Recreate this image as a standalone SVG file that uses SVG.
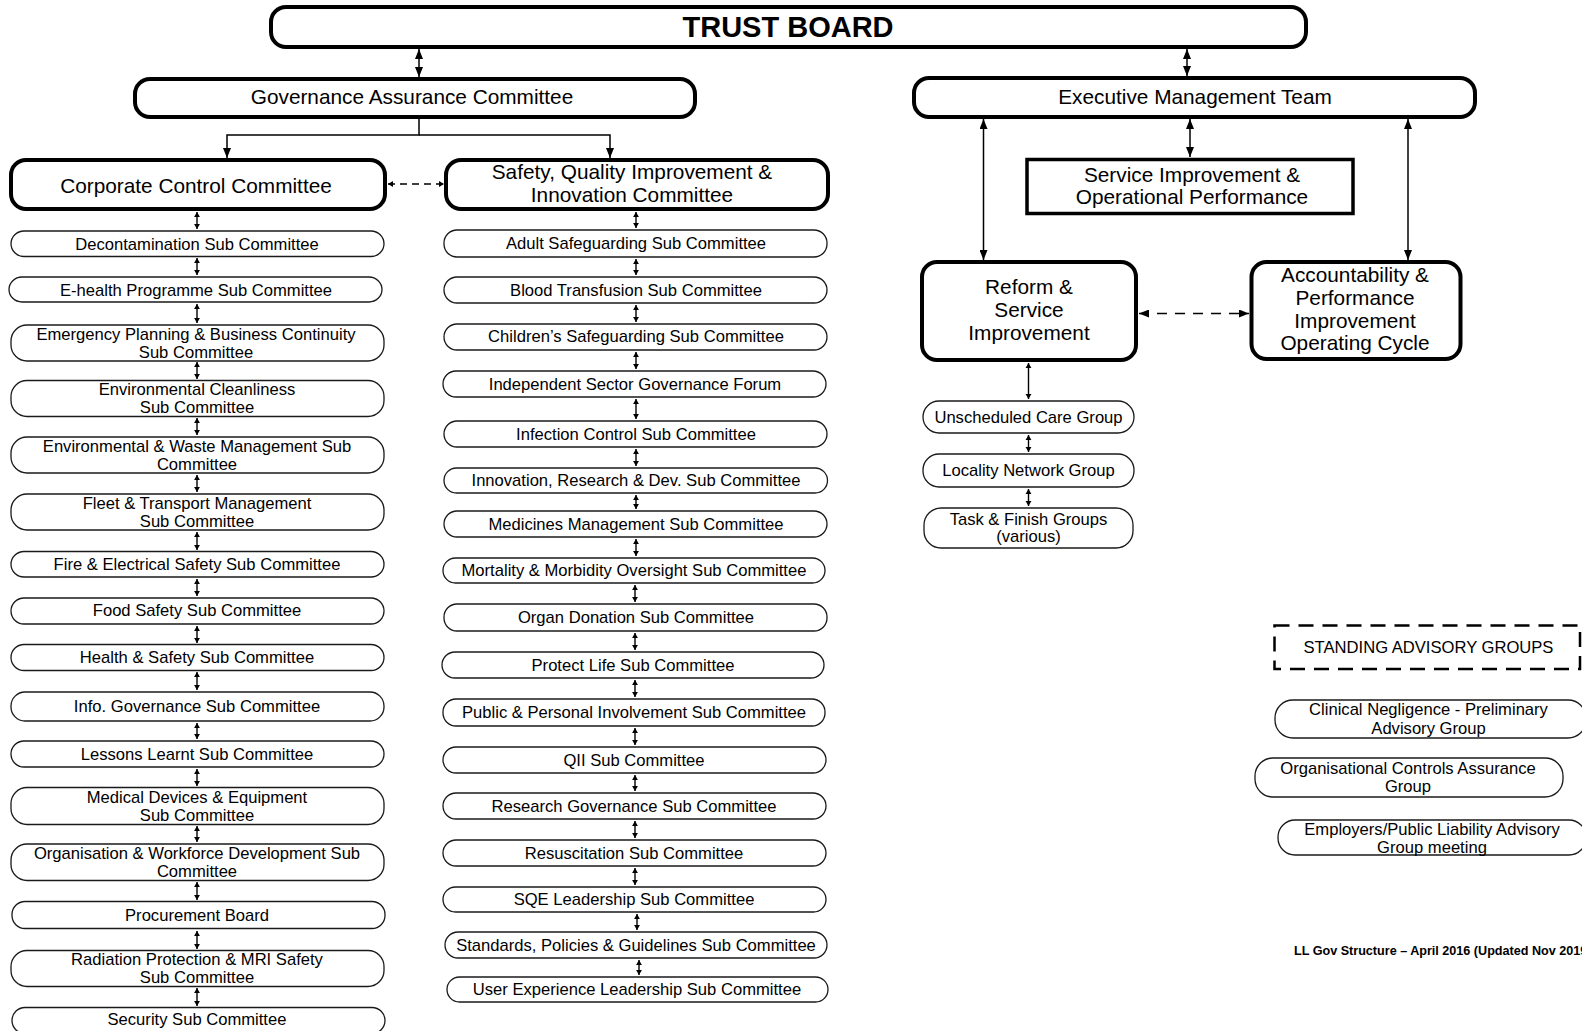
<svg xmlns="http://www.w3.org/2000/svg" width="1582" height="1031" viewBox="0 0 1582 1031">
<style>
text{font-family:"Liberation Sans",Arial,sans-serif;fill:#000;text-anchor:middle}
.h{font-size:20.8px}
.s{font-size:16.6px}
.t{font-size:29px;font-weight:bold}
.f{font-size:12.6px;font-weight:bold;text-anchor:start}
.big{fill:#fff;stroke:#000;stroke-width:4}
.sub{fill:#fff;stroke:#1a1a1a;stroke-width:1.3}
.c{fill:none;stroke:#000;stroke-width:1.5}
.cs{fill:none;stroke:#000;stroke-width:1.4}
.d{fill:none;stroke:#000;stroke-width:1.5;stroke-dasharray:7 5}
.d2{fill:none;stroke:#000;stroke-width:1.5;stroke-dasharray:10 8}
.sag{fill:none;stroke:#000;stroke-width:2.5;stroke-dasharray:15 9}
</style>
<defs>
<marker id="ah" viewBox="0 0 10 8" refX="10" refY="4" markerWidth="10" markerHeight="8" orient="auto-start-reverse" markerUnits="userSpaceOnUse"><path d="M0,0L10,4L0,8z" fill="#000"/></marker>
<marker id="as" viewBox="0 0 6 7" refX="6" refY="3.5" markerWidth="5" markerHeight="7" orient="auto-start-reverse" markerUnits="userSpaceOnUse"><path d="M0,0L6,3.5L0,7z" fill="#000"/></marker>
</defs>
<rect width="1582" height="1031" fill="#fff"/>

<g id="connectors">
<line class="c" x1="419" y1="49" x2="419" y2="77" marker-start="url(#ah)" marker-end="url(#ah)"/>
<line class="c" x1="1187" y1="49" x2="1187" y2="76" marker-start="url(#ah)" marker-end="url(#ah)"/>
<polyline class="c" points="419,119 419,135 227,135 227,158" marker-end="url(#ah)"/>
<polyline class="c" points="419,135 610,135 610,158" marker-end="url(#ah)"/>
<line class="d" x1="388" y1="184" x2="444" y2="184" marker-start="url(#as)" marker-end="url(#as)"/>
<line class="c" x1="1190" y1="119" x2="1190" y2="157" marker-start="url(#ah)" marker-end="url(#ah)"/>
<line class="c" x1="983.5" y1="119" x2="983.5" y2="260" marker-start="url(#ah)" marker-end="url(#ah)"/>
<line class="c" x1="1408" y1="119" x2="1408" y2="260" marker-start="url(#ah)" marker-end="url(#ah)"/>
<line class="d2" x1="1139" y1="313.5" x2="1249" y2="313.5" marker-start="url(#ah)" marker-end="url(#ah)"/>
<line class="cs" x1="1028.5" y1="363" x2="1028.5" y2="399" marker-start="url(#as)" marker-end="url(#as)"/>
<line class="cs" x1="1028.5" y1="435" x2="1028.5" y2="452" marker-start="url(#as)" marker-end="url(#as)"/>
<line class="cs" x1="1028.5" y1="489" x2="1028.5" y2="506" marker-start="url(#as)" marker-end="url(#as)"/>
<g>
<line class="cs" x1="197" y1="212" x2="197" y2="229" marker-start="url(#as)" marker-end="url(#as)"/>
<line class="cs" x1="197" y1="258" x2="197" y2="275" marker-start="url(#as)" marker-end="url(#as)"/>
<line class="cs" x1="197" y1="304" x2="197" y2="323" marker-start="url(#as)" marker-end="url(#as)"/>
<line class="cs" x1="197" y1="362" x2="197" y2="379" marker-start="url(#as)" marker-end="url(#as)"/>
<line class="cs" x1="197" y1="418" x2="197" y2="435" marker-start="url(#as)" marker-end="url(#as)"/>
<line class="cs" x1="197" y1="475" x2="197" y2="492" marker-start="url(#as)" marker-end="url(#as)"/>
<line class="cs" x1="197" y1="532" x2="197" y2="550" marker-start="url(#as)" marker-end="url(#as)"/>
<line class="cs" x1="197" y1="579" x2="197" y2="596" marker-start="url(#as)" marker-end="url(#as)"/>
<line class="cs" x1="197" y1="626" x2="197" y2="643" marker-start="url(#as)" marker-end="url(#as)"/>
<line class="cs" x1="197" y1="672" x2="197" y2="690" marker-start="url(#as)" marker-end="url(#as)"/>
<line class="cs" x1="197" y1="723" x2="197" y2="739" marker-start="url(#as)" marker-end="url(#as)"/>
<line class="cs" x1="197" y1="769" x2="197" y2="786" marker-start="url(#as)" marker-end="url(#as)"/>
<line class="cs" x1="197" y1="826" x2="197" y2="842" marker-start="url(#as)" marker-end="url(#as)"/>
<line class="cs" x1="197" y1="882" x2="197" y2="900" marker-start="url(#as)" marker-end="url(#as)"/>
<line class="cs" x1="197" y1="931" x2="197" y2="949" marker-start="url(#as)" marker-end="url(#as)"/>
<line class="cs" x1="197" y1="988" x2="197" y2="1006" marker-start="url(#as)" marker-end="url(#as)"/>
</g>
<g>
<line class="cs" x1="636" y1="212" x2="636" y2="228" marker-start="url(#as)" marker-end="url(#as)"/>
<line class="cs" x1="636" y1="259" x2="636" y2="275" marker-start="url(#as)" marker-end="url(#as)"/>
<line class="cs" x1="636" y1="305" x2="636" y2="322" marker-start="url(#as)" marker-end="url(#as)"/>
<line class="cs" x1="636" y1="352" x2="636" y2="369" marker-start="url(#as)" marker-end="url(#as)"/>
<line class="cs" x1="636" y1="399" x2="636" y2="419" marker-start="url(#as)" marker-end="url(#as)"/>
<line class="cs" x1="636" y1="449" x2="636" y2="466" marker-start="url(#as)" marker-end="url(#as)"/>
<line class="cs" x1="636" y1="495" x2="636" y2="509" marker-start="url(#as)" marker-end="url(#as)"/>
<line class="cs" x1="636" y1="539" x2="636" y2="556" marker-start="url(#as)" marker-end="url(#as)"/>
<line class="cs" x1="635" y1="585" x2="635" y2="602" marker-start="url(#as)" marker-end="url(#as)"/>
<line class="cs" x1="635" y1="633" x2="635" y2="650" marker-start="url(#as)" marker-end="url(#as)"/>
<line class="cs" x1="635" y1="680" x2="635" y2="697" marker-start="url(#as)" marker-end="url(#as)"/>
<line class="cs" x1="635" y1="728" x2="635" y2="745" marker-start="url(#as)" marker-end="url(#as)"/>
<line class="cs" x1="635" y1="775" x2="635" y2="791" marker-start="url(#as)" marker-end="url(#as)"/>
<line class="cs" x1="635" y1="821" x2="635" y2="838" marker-start="url(#as)" marker-end="url(#as)"/>
<line class="cs" x1="635" y1="868" x2="635" y2="885" marker-start="url(#as)" marker-end="url(#as)"/>
<line class="cs" x1="637" y1="914" x2="637" y2="930" marker-start="url(#as)" marker-end="url(#as)"/>
<line class="cs" x1="639" y1="960" x2="639" y2="975" marker-start="url(#as)" marker-end="url(#as)"/>
</g>
</g>

<g id="trust-board"><rect class="big" x="271" y="7" width="1035" height="40" rx="15"/><text class="t" x="788" y="36.5">TRUST BOARD</text></g>
<g id="governance"><rect class="big" x="135" y="79" width="560" height="38" rx="15"/><text class="h" x="412" y="104.3">Governance Assurance Committee</text></g>
<g id="executive"><rect class="big" x="914" y="78" width="561" height="39" rx="15"/><text class="h" x="1195" y="104">Executive Management Team</text></g>
<g id="corporate"><rect class="big" x="11" y="160" width="374" height="49" rx="15"/><text class="h" x="196" y="192.5">Corporate Control Committee</text></g>
<g id="safety"><rect class="big" x="446" y="160" width="382" height="49" rx="15"/><text class="h" x="632" y="179">Safety, Quality Improvement &amp;</text><text class="h" x="632" y="202">Innovation Committee</text></g>
<g id="service-improvement"><rect x="1027" y="159.5" width="326" height="54" fill="#fff" stroke="#000" stroke-width="3.5"/><text class="h" x="1192" y="182">Service Improvement &amp;</text><text class="h" x="1192" y="203.5">Operational Performance</text></g>
<g id="reform"><rect class="big" x="922" y="262" width="214" height="98" rx="15"/><text class="h" x="1029" y="294">Reform &amp;</text><text class="h" x="1029" y="316.5">Service</text><text class="h" x="1029" y="339.5">Improvement</text></g>
<g id="accountability"><rect class="big" x="1251.5" y="262" width="209" height="97" rx="15"/><text class="h" x="1355" y="282">Accountability &amp;</text><text class="h" x="1355" y="304.5">Performance</text><text class="h" x="1355" y="327.5">Improvement</text><text class="h" x="1355" y="350">Operating Cycle</text></g>

<g id="unscheduled"><rect class="sub" x="923" y="401" width="211" height="32" rx="16"/><text class="s" x="1028.5" y="422.7">Unscheduled Care Group</text></g>
<g id="locality"><rect class="sub" x="923" y="454" width="211" height="33" rx="16"/><text class="s" x="1028.5" y="476">Locality Network Group</text></g>
<g id="task-finish"><rect class="sub" x="924" y="508" width="209" height="40" rx="17"/><text class="s" x="1028.5" y="525">Task &amp; Finish Groups</text><text class="s" x="1028.5" y="542">(various)</text></g>

<g id="l01"><rect class="sub" x="11" y="231" width="373" height="25.5" rx="13"/><text class="s" x="197" y="249.8">Decontamination Sub Committee</text></g>
<g id="l02"><rect class="sub" x="9" y="277" width="373" height="25" rx="13"/><text class="s" x="196" y="295.5">E-health Programme Sub Committee</text></g>
<g id="l03"><rect class="sub" x="11" y="325" width="373" height="36" rx="16"/><text class="s" x="196" y="340">Emergency Planning &amp; Business Continuity</text><text class="s" x="196" y="357.7">Sub Committee</text></g>
<g id="l04"><rect class="sub" x="11" y="380.5" width="373" height="36" rx="16"/><text class="s" x="197" y="395">Environmental Cleanliness</text><text class="s" x="197" y="412.7">Sub Committee</text></g>
<g id="l05"><rect class="sub" x="11" y="437" width="373" height="36" rx="16"/><text class="s" x="197" y="452">Environmental &amp; Waste Management Sub</text><text class="s" x="197" y="469.7">Committee</text></g>
<g id="l06"><rect class="sub" x="11" y="494" width="373" height="36" rx="16"/><text class="s" x="197" y="508.7">Fleet &amp; Transport Management</text><text class="s" x="197" y="526.7">Sub Committee</text></g>
<g id="l07"><rect class="sub" x="11" y="551.5" width="373" height="25.5" rx="13"/><text class="s" x="197" y="569.7">Fire &amp; Electrical Safety Sub Committee</text></g>
<g id="l08"><rect class="sub" x="11" y="598" width="373" height="26" rx="13"/><text class="s" x="197" y="616">Food Safety Sub Committee</text></g>
<g id="l09"><rect class="sub" x="11" y="644.5" width="373" height="26" rx="13"/><text class="s" x="197" y="662.7">Health &amp; Safety Sub Committee</text></g>
<g id="l10"><rect class="sub" x="11" y="692" width="373" height="29" rx="14"/><text class="s" x="197" y="712">Info. Governance Sub Committee</text></g>
<g id="l11"><rect class="sub" x="11" y="741" width="373" height="26" rx="13"/><text class="s" x="197" y="759.7">Lessons Learnt Sub Committee</text></g>
<g id="l12"><rect class="sub" x="11" y="787.5" width="373" height="37" rx="16"/><text class="s" x="197" y="802.7">Medical Devices &amp; Equipment</text><text class="s" x="197" y="820.7">Sub Committee</text></g>
<g id="l13"><rect class="sub" x="11" y="844" width="373" height="36.5" rx="16"/><text class="s" x="197" y="858.7">Organisation &amp; Workforce Development Sub</text><text class="s" x="197" y="876.7">Committee</text></g>
<g id="l14"><rect class="sub" x="12" y="901.5" width="373" height="27" rx="13"/><text class="s" x="197" y="920.7">Procurement Board</text></g>
<g id="l15"><rect class="sub" x="11" y="950.5" width="373" height="36" rx="16"/><text class="s" x="197" y="965">Radiation Protection &amp; MRI Safety</text><text class="s" x="197" y="982.7">Sub Committee</text></g>
<g id="l16"><rect class="sub" x="12" y="1007.5" width="373" height="26" rx="13"/><text class="s" x="197" y="1025.3">Security Sub Committee</text></g>

<g id="c01"><rect class="sub" x="444" y="230" width="383" height="27" rx="13"/><text class="s" x="636" y="249">Adult Safeguarding Sub Committee</text></g>
<g id="c02"><rect class="sub" x="444" y="277" width="383" height="26" rx="13"/><text class="s" x="636" y="295.7">Blood Transfusion Sub Committee</text></g>
<g id="c03"><rect class="sub" x="444" y="324" width="383" height="26" rx="13"/><text class="s" x="636" y="342">Children’s Safeguarding Sub Committee</text></g>
<g id="c04"><rect class="sub" x="443" y="371" width="383" height="26" rx="13"/><text class="s" x="635" y="389.7">Independent Sector Governance Forum</text></g>
<g id="c05"><rect class="sub" x="444" y="421" width="383" height="26" rx="13"/><text class="s" x="636" y="439.7">Infection Control Sub Committee</text></g>
<g id="c06"><rect class="sub" x="444" y="468" width="383.5" height="25" rx="12.5"/><text class="s" x="636" y="485.7">Innovation, Research &amp; Dev. Sub Committee</text></g>
<g id="c07"><rect class="sub" x="444" y="511" width="383" height="26" rx="13"/><text class="s" x="636" y="529.7">Medicines Management Sub Committee</text></g>
<g id="c08"><rect class="sub" x="443" y="558" width="382" height="25" rx="12.5"/><text class="s" x="634" y="575.7">Mortality &amp; Morbidity Oversight Sub Committee</text></g>
<g id="c09"><rect class="sub" x="444" y="604" width="383" height="27" rx="13"/><text class="s" x="636" y="622.7">Organ Donation Sub Committee</text></g>
<g id="c10"><rect class="sub" x="442" y="652" width="382" height="26" rx="13"/><text class="s" x="633" y="670.7">Protect Life Sub Committee</text></g>
<g id="c11"><rect class="sub" x="443" y="699" width="382" height="27" rx="13"/><text class="s" x="634" y="718">Public &amp; Personal Involvement Sub Committee</text></g>
<g id="c12"><rect class="sub" x="443" y="747" width="383" height="26" rx="13"/><text class="s" x="634" y="765.7">QII Sub Committee</text></g>
<g id="c13"><rect class="sub" x="443" y="793" width="383" height="26" rx="13"/><text class="s" x="634" y="811.7">Research Governance Sub Committee</text></g>
<g id="c14"><rect class="sub" x="443" y="840" width="383" height="26" rx="13"/><text class="s" x="634" y="858.7">Resuscitation Sub Committee</text></g>
<g id="c15"><rect class="sub" x="443" y="887" width="383" height="25" rx="12.5"/><text class="s" x="634" y="904.7">SQE Leadership Sub Committee</text></g>
<g id="c16"><rect class="sub" x="445" y="932" width="382" height="26" rx="13"/><text class="s" x="636" y="950.7">Standards, Policies &amp; Guidelines Sub Committee</text></g>
<g id="c17"><rect class="sub" x="447" y="977" width="381" height="25" rx="12.5"/><text class="s" x="637" y="995">User Experience Leadership Sub Committee</text></g>

<g id="standing-advisory"><rect class="sag" x="1274.5" y="625.5" width="305.5" height="43.5"/><text class="s" x="1428.5" y="652.7">STANDING ADVISORY GROUPS</text></g>
<g id="clinical-negligence"><rect class="sub" x="1275" y="700" width="311" height="38" rx="18"/><text class="s" x="1428.5" y="715.3">Clinical Negligence - Preliminary</text><text class="s" x="1428.5" y="734.3">Advisory Group</text></g>
<g id="org-controls"><rect class="sub" x="1255" y="758" width="308" height="39" rx="18"/><text class="s" x="1408" y="773.7">Organisational Controls Assurance</text><text class="s" x="1408" y="792">Group</text></g>
<g id="employers"><rect class="sub" x="1278" y="820" width="308" height="35" rx="17"/><text class="s" x="1432" y="835">Employers/Public Liability Advisory</text><text class="s" x="1432" y="852.7">Group meeting</text></g>
<text class="f" x="1294" y="954.5">LL Gov Structure – April 2016 (Updated Nov 2019)</text>
</svg>
